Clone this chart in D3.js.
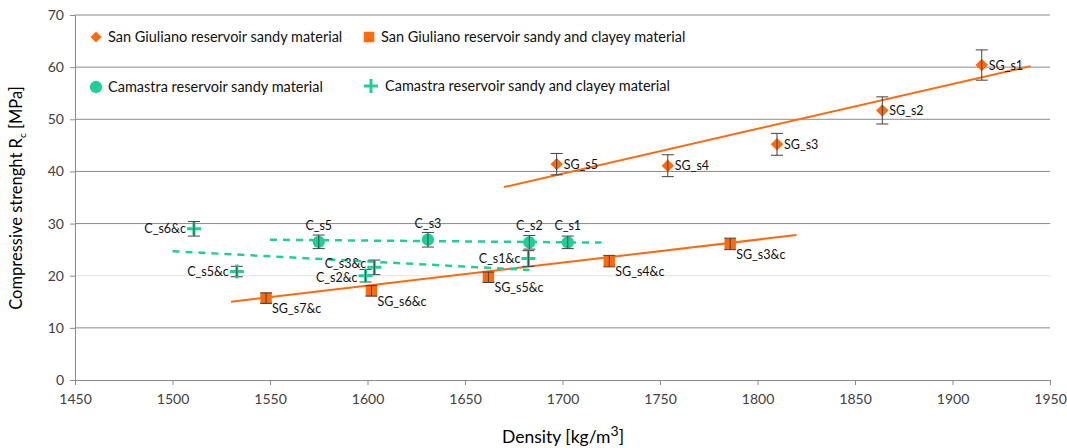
<!DOCTYPE html>
<html><head><meta charset="utf-8">
<script src="https://cdn.jsdelivr.net/npm/d3@7"></script>
<style>
body{margin:0;background:#fff;}
svg{display:block;font-family:"Lato","Open Sans",sans-serif;}
</style></head>
<body><svg id="c" width="1067" height="448"></svg>
<script>
// ---- data ----
const xTicks = [1450,1500,1550,1600,1650,1700,1750,1800,1850,1900,1950];
const yTicks = [0,10,20,30,40,50,60,70];

const sgSandyNames = ["SG_s1","SG_s2","SG_s3","SG_s4","SG_s5"];
const sgSandyDensity = [1915,1864,1810,1754,1697];
const sgSandyStrength = [60.4,51.7,45.2,41.1,41.4];
const sgSandyErr = [2.9,2.6,2.1,2.1,2.05];

const sgClayNames = ["SG_s3&c","SG_s4&c","SG_s5&c","SG_s6&c","SG_s7&c"];
const sgClayDensity = [1786,1724,1662,1602,1548];
const sgClayStrength = [26.1,22.8,19.7,17.1,15.7];
const sgClayErr = [1.1,1.1,1.0,1.0,1.0];

const cSandyNames = ["C_s1","C_s2","C_s3","C_s5"];
const cSandyDensity = [1702.7,1683,1631,1575];
const cSandyStrength = [26.4,26.4,26.9,26.5];
const cSandyErr = [1.2,1.3,1.4,1.3];

const cClayNames = ["C_s1&c","C_s2&c","C_s3&c","C_s5&c","C_s6&c"];
const cClayDensity = [1682.5,1599,1603.5,1533,1511];
const cClayStrength = [23.3,20.0,21.6,20.8,29.0];
const cClayErr = [1.5,1.2,1.4,1.0,1.4];

// trend line end points [density, strength]
const sgSandyTrend = [[1670,37.0],[1940,60.2]];
const sgClayTrend = [[1530,15.0],[1820,27.8]];
const cSandyTrend = [[1550,26.9],[1720,26.35]];
const cClayTrend = [[1500,24.7],[1683,21.1]];

const legendLabels = ["San Giuliano reservoir sandy material","San Giuliano reservoir sandy and clayey material",
  "Camastra reservoir sandy material","Camastra reservoir sandy and clayey material"];

// ---- layout ----
const ORANGE = "#ff6a0d", TEAL = "#1fcf9a", GRID = "#8a8a8a", ERR = "#404040";
const svg = d3.select("#c");
const x = d3.scaleLinear().domain([1450,1950]).range([75,1050]);
const y = d3.scaleLinear().domain([0,70]).range([380,15]);

// gridlines
svg.append("g").selectAll("line").data(yTicks.filter(d=>d>0)).join("line")
  .attr("x1",75).attr("x2",1050).attr("y1",d=>y(d)).attr("y2",d=>y(d))
  .attr("stroke",d=>d===20?"#e4e4e4":GRID).attr("stroke-width",1);

// axes
const xAxis = svg.append("g").attr("transform","translate(0,380)")
  .call(d3.axisBottom(x).tickValues(xTicks).tickFormat(d3.format("d")).tickSize(5).tickPadding(9));
const yAxis = svg.append("g").attr("transform","translate(75,0)")
  .call(d3.axisLeft(y).tickValues(yTicks).tickSize(5).tickPadding(6));
[xAxis,yAxis].forEach(a=>{
  a.select(".domain").attr("stroke",GRID);
  a.selectAll(".tick line").attr("stroke",GRID);
  a.selectAll("text").attr("fill","#404040").attr("font-size",14).attr("font-family","Lato");
});

// axis titles
svg.append("text").attr("transform","translate(22,198) rotate(-90)").attr("text-anchor","middle")
  .attr("font-size",16.5).attr("fill","#000")
  .html('Compressive strenght R<tspan font-size="10" dy="4">c</tspan><tspan dy="-4"> [MPa]</tspan>');
svg.append("text").attr("x",563).attr("y",443).attr("text-anchor","middle")
  .attr("font-size",17.5).attr("fill","#000")
  .html('Density [kg/m<tspan font-size="14" dy="-7">3</tspan><tspan dy="7">]</tspan>');

// trend lines
const line = d3.line().x(d=>x(d[0])).y(d=>y(d[1]));
svg.append("path").attr("d",line(sgSandyTrend)).attr("stroke",ORANGE).attr("stroke-width",2).attr("fill","none");
svg.append("path").attr("d",line(sgClayTrend)).attr("stroke",ORANGE).attr("stroke-width",2).attr("fill","none");
svg.append("path").attr("d",line(cSandyTrend)).attr("stroke",TEAL).attr("stroke-width",2.5).attr("stroke-dasharray","7,6").attr("fill","none");
svg.append("path").attr("d",line(cClayTrend)).attr("stroke",TEAL).attr("stroke-width",2.5).attr("stroke-dasharray","7,6").attr("fill","none");

function series(names,dens,str,err){return names.map((n,i)=>({n,d:dens[i],s:str[i],e:err[i]}));}
const sgS = series(sgSandyNames,sgSandyDensity,sgSandyStrength,sgSandyErr);
const sgC = series(sgClayNames,sgClayDensity,sgClayStrength,sgClayErr);
const cS = series(cSandyNames,cSandyDensity,cSandyStrength,cSandyErr);
const cC = series(cClayNames,cClayDensity,cClayStrength,cClayErr);

function errorBars(g,data){
  const eb = g.append("g").attr("stroke",ERR).attr("stroke-width",1);
  eb.selectAll(".v").data(data).join("line").attr("x1",d=>x(d.d)).attr("x2",d=>x(d.d))
    .attr("y1",d=>y(d.s+d.e)).attr("y2",d=>y(d.s-d.e));
  eb.selectAll(".t").data(data).join("line").attr("x1",d=>x(d.d)-6).attr("x2",d=>x(d.d)+6)
    .attr("y1",d=>y(d.s+d.e)).attr("y2",d=>y(d.s+d.e));
  eb.selectAll(".b").data(data).join("line").attr("x1",d=>x(d.d)-6).attr("x2",d=>x(d.d)+6)
    .attr("y1",d=>y(d.s-d.e)).attr("y2",d=>y(d.s-d.e));
}
const diamondPath = d3.symbol().type(d3.symbolSquare).size(78);
function markers(data,kind,color){
  const g = svg.append("g");
  const p = g.append("g").selectAll("path").data(data).join("path").attr("fill",color);
  if(kind==="diamond") p.attr("transform",d=>`translate(${x(d.d)},${y(d.s)}) rotate(45)`).attr("d",diamondPath);
  else if(kind==="square") p.attr("transform",d=>`translate(${x(d.d)},${y(d.s)})`).attr("d",d3.symbol().type(d3.symbolSquare).size(130));
  else p.attr("transform",d=>`translate(${x(d.d)},${y(d.s)})`).attr("d",d3.symbol().type(d3.symbolCircle).size(120));
  errorBars(g,data);
}
function labels(data,dx,dy,anchor,adj){
  svg.append("g").selectAll("text").data(data).join("text")
    .attr("x",d=>x(d.d)+dx).attr("y",d=>y(d.s)+dy+((adj&&adj[d.n])||0)).attr("text-anchor",anchor)
    .attr("font-size",12.5).attr("fill","#111").text(d=>d.n);
}

markers(sgS,"diamond",ORANGE);
markers(sgC,"square",ORANGE);
markers(cS,"circle",TEAL);
(function(){
  const g = svg.append("g");
  errorBars(g,cC);
  g.selectAll(".p").data(cC).join("path").attr("transform",d=>`translate(${x(d.d)},${y(d.s)})`)
    .attr("d","M-7,0H7M0,-7V7").attr("stroke",TEAL).attr("stroke-width",3).attr("fill","none");
  g.selectAll(".v2").data(cC).join("line").attr("x1",d=>x(d.d)).attr("x2",d=>x(d.d)).attr("y1",d=>y(d.s+d.e)).attr("y2",d=>y(d.s-d.e)).attr("stroke",ERR).attr("stroke-width",1);
})();

labels(sgS,7,4.5,"start");
labels(sgC,6,15,"start");
labels(cS,0,-12,"middle");
labels(cC,-8,4.5,"end",{"C_s3&c":-3.5,"C_s2&c":2});

// legend
const leg = [
  {t:legendLabels[0],k:"diamond",c:ORANGE,x:96,y:37},
  {t:legendLabels[1],k:"square",c:ORANGE,x:369,y:37},
  {t:legendLabels[2],k:"circle",c:TEAL,x:96,y:87},
  {t:legendLabels[3],k:"plus",c:TEAL,x:371,y:86}
];
const lg = svg.append("g");
leg.forEach(l=>{
  if(l.k==="diamond") lg.append("path").attr("transform",`translate(${l.x},${l.y}) rotate(45)`).attr("d",d3.symbol().type(d3.symbolSquare).size(62)).attr("fill",l.c);
  else if(l.k==="square") lg.append("path").attr("transform",`translate(${l.x},${l.y})`).attr("d",d3.symbol().type(d3.symbolSquare).size(110)).attr("fill",l.c);
  else if(l.k==="circle") lg.append("path").attr("transform",`translate(${l.x},${l.y})`).attr("d",d3.symbol().type(d3.symbolCircle).size(120)).attr("fill",l.c);
  else lg.append("path").attr("transform",`translate(${l.x},${l.y})`).attr("d","M-7,0H7M0,-7V7").attr("stroke",l.c).attr("stroke-width",3);
  lg.append("text").attr("x",l.x+(l.k==="plus"?14:12)).attr("y",l.y+5).attr("font-size",14.5).attr("fill","#111").text(l.t);
});
</script></body></html>
